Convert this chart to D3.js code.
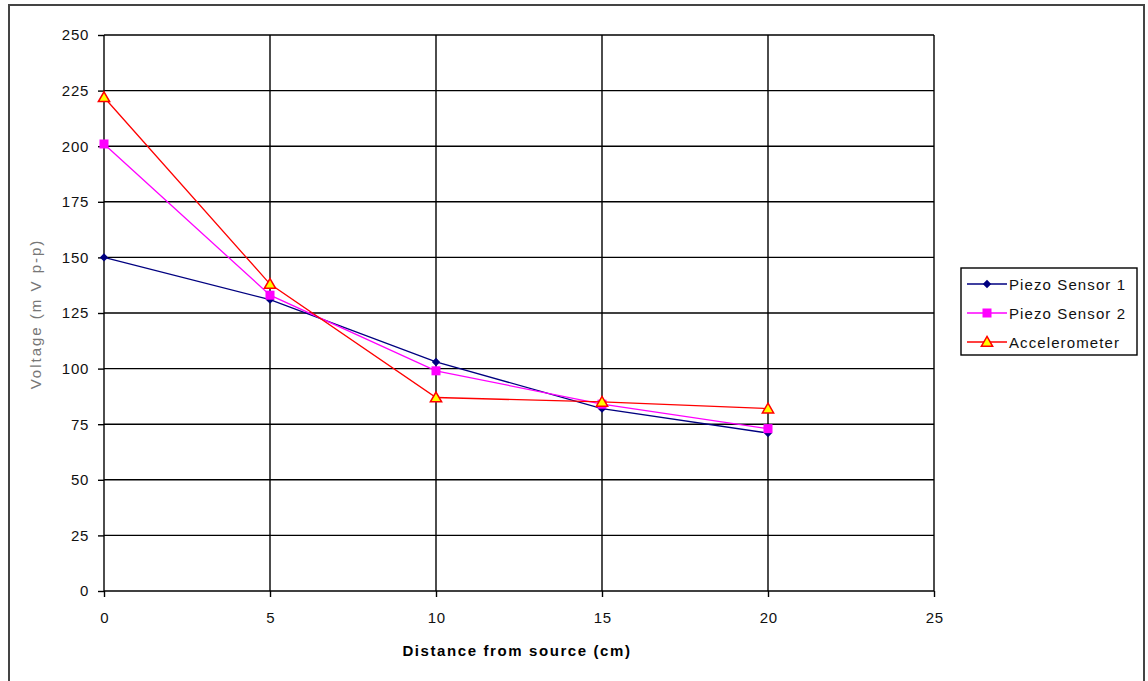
<!DOCTYPE html>
<html>
<head>
<meta charset="utf-8">
<script src="https://cdn.jsdelivr.net/npm/d3@7"></script>
<style>
  body { margin: 0; background: #fff; }
  svg { display: block; font-family: "Liberation Sans", Arial, sans-serif; }
</style>
</head>
<body>
<svg id="chart"></svg>
<script>
const distances = [0, 5, 10, 15, 20];
const piezo1 = [150, 131, 103, 82, 71];
const piezo2 = [201, 133, 99, 84, 73];
const accel = [222, 138, 87, 85, 82];
const xTicks = [0, 5, 10, 15, 20, 25];
const yTicks = [0, 25, 50, 75, 100, 125, 150, 175, 200, 225, 250];

const series = [
  {name: 'Piezo Sensor 1', values: piezo1, color: '#000080', marker: 'diamond'},
  {name: 'Piezo Sensor 2', values: piezo2, color: '#ff00ff', marker: 'square'},
  {name: 'Accelerometer', values: accel, color: '#ff0000', marker: 'triangle'}
];

const width = 1148, height = 681;
const margin = {top: 35, right: 214, bottom: 90, left: 104};

const svg = d3.select('#chart').attr('width', width).attr('height', height);

// outer chart border
svg.append('rect')
  .attr('x', 9).attr('y', 5)
  .attr('width', 1135).attr('height', 690)
  .attr('fill', 'none')
  .attr('stroke', '#444')
  .attr('stroke-width', 2);

const x = d3.scaleLinear().domain([0, 25]).range([margin.left, width - margin.right]);
const y = d3.scaleLinear().domain([0, 250]).range([height - margin.bottom, margin.top]);

// gridlines
const grid = svg.append('g').attr('stroke', '#000').attr('stroke-width', 1.4);
grid.selectAll('.h').data(yTicks).enter().append('line')
  .attr('x1', x(0)).attr('x2', x(25))
  .attr('y1', d => y(d)).attr('y2', d => y(d));
grid.selectAll('.v').data(xTicks).enter().append('line')
  .attr('y1', y(0)).attr('y2', y(250))
  .attr('x1', d => x(d)).attr('x2', d => x(d));

// axes
const xAxis = svg.append('g')
  .attr('transform', `translate(0,${y(0)})`)
  .call(d3.axisBottom(x).tickValues(xTicks).tickSize(6).tickSizeOuter(0).tickPadding(15));
const yAxis = svg.append('g')
  .attr('transform', `translate(${x(0)},0)`)
  .call(d3.axisLeft(y).tickValues(yTicks).tickSize(6).tickSizeOuter(0).tickPadding(9));
[xAxis, yAxis].forEach(a => {
  a.select('.domain').remove();
  a.selectAll('line').attr('stroke', '#000').attr('stroke-width', 1.4);
  a.selectAll('text').attr('font-size', 15).attr('fill', '#111')
    .attr('letter-spacing', 0.7)
    .attr('font-family', '"Liberation Sans", Arial, sans-serif');
});
xAxis.selectAll('text').attr('dx', 0.35);

// axis titles
svg.append('text')
  .attr('x', (x(0) + x(25)) / 2 - 2).attr('y', 656)
  .attr('text-anchor', 'middle')
  .attr('font-size', 15).attr('font-weight', 'bold')
  .attr('letter-spacing', 1.6)
  .text('Distance from source (cm)');

svg.append('text')
  .attr('transform', `translate(41,314) rotate(-90)`)
  .attr('text-anchor', 'middle')
  .attr('font-size', 15).attr('fill', '#777')
  .attr('letter-spacing', 2)
  .text('Voltage (m V p-p)');

const line = d3.line().x((d, i) => x(distances[i])).y(d => y(d));

function drawMarker(g, type, color, cx, cy) {
  if (type === 'diamond') {
    g.append('path').attr('d', d3.symbol(d3.symbolDiamond2, 45)())
      .attr('transform', `translate(${cx},${cy})`).attr('fill', color);
  } else if (type === 'square') {
    g.append('rect').attr('x', cx - 4.5).attr('y', cy - 4.5)
      .attr('width', 9).attr('height', 9).attr('fill', color);
  } else {
    g.append('path').attr('d', d3.symbol(d3.symbolTriangle, 55)())
      .attr('transform', `translate(${cx},${cy + 1})`)
      .attr('fill', '#ffff00').attr('stroke', color).attr('stroke-width', 1.5);
  }
}

series.forEach(s => {
  const g = svg.append('g');
  g.append('path').datum(s.values)
    .attr('d', line).attr('fill', 'none')
    .attr('stroke', s.color).attr('stroke-width', 1.3);
  s.values.forEach((v, i) => drawMarker(g, s.marker, s.color, x(distances[i]), y(v)));
});

// legend
const lg = svg.append('g').attr('transform', 'translate(961,268)');
lg.append('rect').attr('width', 176).attr('height', 87)
  .attr('fill', '#fff').attr('stroke', '#000').attr('stroke-width', 1.4);
series.forEach((s, i) => {
  const yy = 16 + i * 29;
  lg.append('line').attr('x1', 6).attr('x2', 46).attr('y1', yy).attr('y2', yy)
    .attr('stroke', s.color).attr('stroke-width', 1.3);
  drawMarker(lg, s.marker, s.color, 26, yy);
  lg.append('text').attr('x', 48).attr('y', yy + 5.5)
    .attr('font-size', 15).attr('letter-spacing', 1.1).attr('fill', '#111')
    .text(s.name);
});
</script>
</body>
</html>
